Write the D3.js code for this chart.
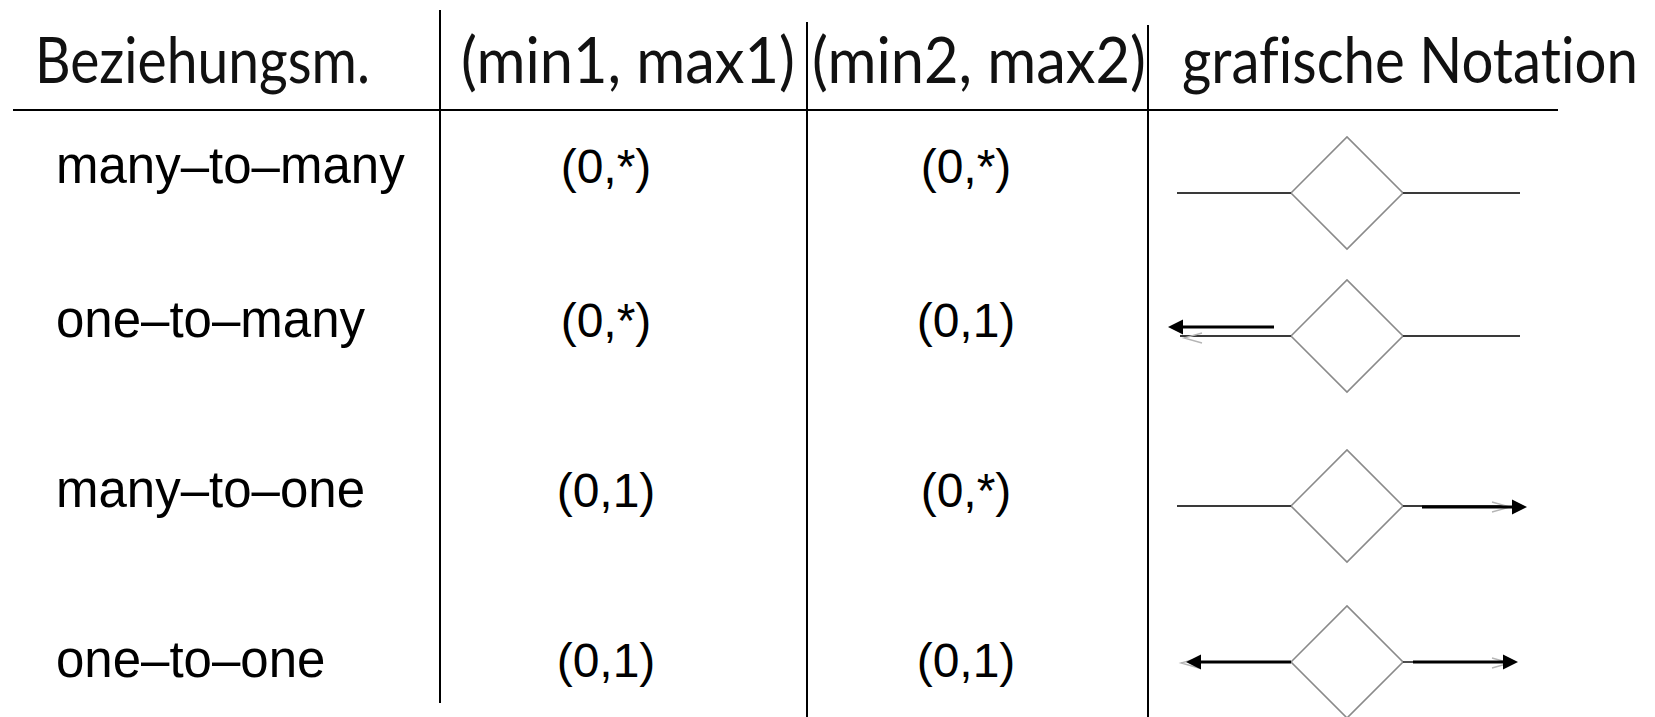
<!DOCTYPE html>
<html>
<head>
<meta charset="utf-8">
<script src="https://cdn.jsdelivr.net/npm/d3@7"></script>
<style>
  html, body { margin: 0; padding: 0; background: #fff; }
  svg { display: block; }
</style>
</head>
<body>
<script>
// ---------- data ----------
const headers = ["Beziehungsm.", "(min1, max1)", "(min2, max2)", "grafische Notation"];
const categories = ["many\u2013to\u2013many", "one\u2013to\u2013many", "many\u2013to\u2013one", "one\u2013to\u2013one"];
const min1max1 = ["(0,*)", "(0,*)", "(0,1)", "(0,1)"];
const min2max2 = ["(0,*)", "(0,1)", "(0,*)", "(0,1)"];
const arrowLeft = [false, true, false, true];
const arrowRight = [false, false, true, true];

// ---------- layout ----------
const W = 1655, H = 717;
const svg = d3.select("body").append("svg").attr("width", W).attr("height", H);

const columns = ["label", "min1", "min2", "notation"];
const headerX = d3.scaleOrdinal().domain(columns).range([35, 461, 812, 1182]);
const headerW = d3.scaleOrdinal().domain(columns).range([335, 334, 334, 456]);
const valueX = d3.scaleOrdinal().domain(columns).range([56, 606, 966, 1347]);
const rowY = d3.scaleOrdinal().domain(categories).range([183, 337, 507, 677]);
const notY = d3.scaleOrdinal().domain(categories).range([193, 336, 506, 662]);

// header text: natural width measured, then scaled horizontally to the reference width
const hdr = svg.append("g").selectAll("text").data(headers).join("text")
  .attr("x", 0)
  .attr("y", 0)
  .style("font-family", "Lato, 'Open Sans', sans-serif")
  .style("font-weight", 400)
  .style("font-size", "64px")
  .style("font-variant-ligatures", "none")
  .attr("fill", "#111")
  .text(d => d);
hdr.each(function (d, i) {
  const nat = this.getComputedTextLength();
  const sx = headerW(columns[i]) / nat;
  d3.select(this).attr("transform", `translate(${headerX(columns[i])},83) scale(${sx},1)`);
});

// rules
const rules = svg.append("g").attr("stroke", "#000").attr("stroke-width", 2);
rules.append("line").attr("x1", 13).attr("x2", 1558).attr("y1", 110).attr("y2", 110);
[[440, 10, 703], [807, 22, 717], [1148, 25, 717]].forEach(([x, y1, y2]) => {
  rules.append("line").attr("x1", x).attr("x2", x).attr("y1", y1).attr("y2", y2);
});

// body text
const body = svg.append("g")
  .style("font-family", "'Liberation Sans', Arial, Helvetica, sans-serif")
  .attr("fill", "#000");

body.selectAll("text.lab").data(categories).join("text")
  .attr("class", "lab")
  .attr("x", valueX("label"))
  .attr("y", d => rowY(d))
  .style("font-size", "51px")
  .text(d => d);

body.selectAll("text.v1").data(min1max1).join("text")
  .attr("class", "v1")
  .attr("x", valueX("min1"))
  .attr("y", (d, i) => rowY(categories[i]))
  .attr("text-anchor", "middle")
  .style("font-size", "48px")
  .text(d => d);

body.selectAll("text.v2").data(min2max2).join("text")
  .attr("class", "v2")
  .attr("x", valueX("min2"))
  .attr("y", (d, i) => rowY(categories[i]))
  .attr("text-anchor", "middle")
  .style("font-size", "48px")
  .text(d => d);

// graphic notation
const cx = valueX("notation"), half = 56;
const lineL = 1177, lineR = 1520;
const line = d3.line();
const g = svg.append("g");

categories.forEach((c, i) => {
  const y = notY(c);
  const L = arrowLeft[i], R = arrowRight[i];
  const thin = { stroke: "#3a3a3a", w: 1.8 };

  // diamond
  g.append("path")
    .attr("d", line([[cx - half, y], [cx, y - half], [cx + half, y], [cx, y + half]]) + "Z")
    .attr("fill", "none").attr("stroke", "#8a8a8a").attr("stroke-width", 1.6);

  // left side
  if (!L || !R) {
    const x0 = L ? 1180 : lineL;
    g.append("line").attr("x1", x0).attr("x2", cx - half).attr("y1", y).attr("y2", y)
      .attr("stroke", thin.stroke).attr("stroke-width", thin.w);
  }
  // right side
  {
    const x1 = R ? (L ? 1413 : 1505) : lineR;
    g.append("line").attr("x1", cx + half).attr("x2", x1).attr("y1", y).attr("y2", y)
      .attr("stroke", thin.stroke).attr("stroke-width", thin.w);
  }

  // ghost chevrons (faint grey)
  const ghost = (tipX, dir, yy) => {
    g.append("path")
      .attr("d", line([[tipX - dir * 18, yy - 5], [tipX, yy], [tipX - dir * 18, yy + 5]]))
      .attr("fill", "none").attr("stroke", "#b5b5b5").attr("stroke-width", 1.3);
  };

  // arrows
  const arrow = (x0, tip, yy) => {
    const dir = Math.sign(tip - x0);
    const back = tip - dir * 15;
    g.append("line").attr("x1", x0).attr("x2", back).attr("y1", yy).attr("y2", yy)
      .attr("stroke", "#000").attr("stroke-width", 3);
    g.append("path")
      .attr("d", line([[tip, yy], [back, yy - 7.5], [back, yy + 7.5]]) + "Z")
      .attr("fill", "#000");
  };

  if (L) {
    if (R) {
      ghost(1181, -1, y + 1);
      arrow(cx - half, 1186, y);
    } else {
      ghost(1184, -1, y + 2);
      arrow(1274, 1168, y - 9);
    }
  }
  if (R) {
    ghost(1510, 1, y + 1);
    if (L) arrow(1413, 1518, y);
    else arrow(1422, 1527, y + 1);
  }
});
</script>
</body>
</html>
